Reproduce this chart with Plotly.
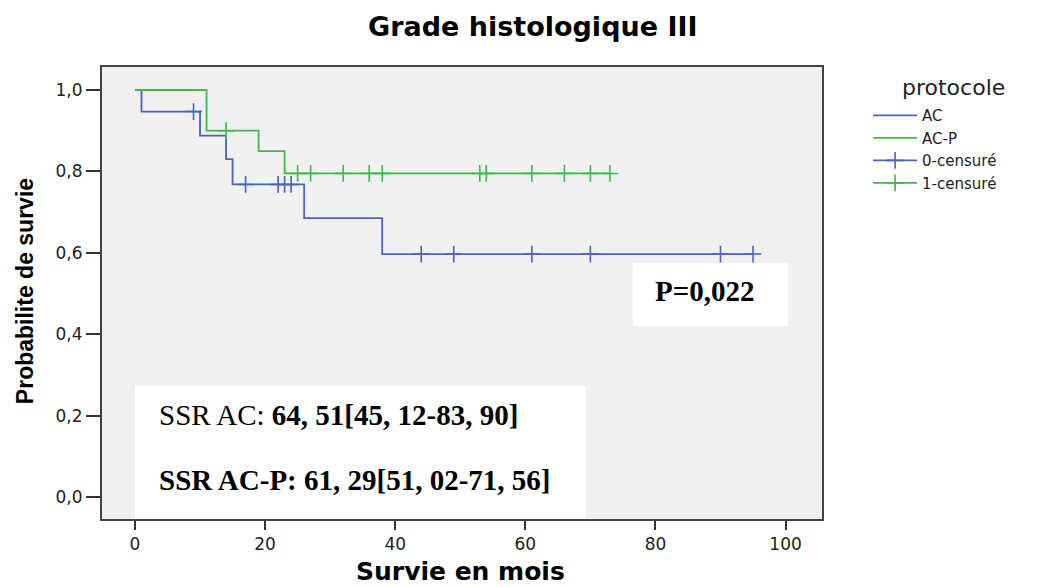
import numpy as np
import plotly.graph_objects as go

# ---- data ----
ac_event_t = [0, 1, 10, 14, 15, 26, 38]
ac_event_s = [1.0, 0.947, 0.888, 0.83, 0.768, 0.685, 0.597]
ac_censor_t = [9, 17, 22, 23, 24, 44, 49, 61, 70, 90, 95]

acp_event_t = [0, 11, 19, 23]
acp_event_s = [1.0, 0.90, 0.85, 0.795]
acp_censor_t = [14, 25, 27, 32, 36, 38, 53, 54, 61, 66, 70, 73]

x_ticks = [0, 20, 40, 60, 80, 100]
y_ticks = [0.0, 0.2, 0.4, 0.6, 0.8, 1.0]
y_ticktext = ["0,0", "0,2", "0,4", "0,6", "0,8", "1,0"]

series_names = ["AC", "AC-P"]
censor_names = ["0-censuré", "1-censuré"]
title_text = "Grade histologique III"
x_title = "Survie en mois"
y_title = "Probabilite de survie"
legend_title = "protocole"
ssr_ac = "SSR AC: <b>64, 51[45, 12-83, 90]</b>"
ssr_acp = "<b>SSR AC-P: 61, 29[51, 02-71, 56]</b>"
p_text = "<b>P=0,022</b>"

BLUE = "#4b63b8"
GREEN = "#3dba48"


def surv_at(times, surv, t):
    idx = np.searchsorted(np.asarray(times), np.asarray(t), side="right") - 1
    return list(np.asarray(surv)[idx])


def step_curve(times, surv, censor):
    last = max(censor)
    return list(times) + [last], list(surv) + [surv[-1]]


fig = go.Figure()

for name, et, es, ct, col in [
    (series_names[0], ac_event_t, ac_event_s, ac_censor_t, BLUE),
    (series_names[1], acp_event_t, acp_event_s, acp_censor_t, GREEN),
]:
    xs, ys = step_curve(et, es, ct)
    fig.add_trace(go.Scatter(x=xs, y=ys, mode="lines", line_shape="hv",
                             line=dict(color=col, width=1.8), name=name))

for name, et, es, ct, col in [
    (censor_names[0], ac_event_t, ac_event_s, ac_censor_t, BLUE),
    (censor_names[1], acp_event_t, acp_event_s, acp_censor_t, GREEN),
]:
    fig.add_trace(go.Scatter(x=ct, y=surv_at(et, es, ct), mode="markers",
                             marker=dict(symbol="cross-thin", size=12,
                                         line=dict(color=col, width=1.6)),
                             showlegend=False, name=name))
    # legend entry (line with cross)
    fig.add_trace(go.Scatter(x=[None], y=[None], mode="lines+markers",
                             line=dict(color=col, width=1.7),
                             marker=dict(symbol="cross-thin", size=12,
                                         line=dict(color=col, width=1.6)),
                             name=name))

# text boxes
fig.add_shape(type="rect", xref="paper", yref="paper", x0=0.046, x1=0.672,
              y0=0.0, y1=0.294, fillcolor="white", line=dict(width=0), layer="above")
fig.add_shape(type="rect", xref="paper", yref="paper", x0=0.7375, x1=0.953,
              y0=0.427, y1=0.566, fillcolor="white", line=dict(width=0), layer="above")

serif = "Liberation Serif, Times New Roman, serif"
fig.add_annotation(text=ssr_ac, xref="paper", yref="paper", x=0.076, y=0.229,
                   xanchor="left", yanchor="middle", showarrow=False,
                   font=dict(family=serif, size=29, color="black"))
fig.add_annotation(text=ssr_acp, xref="paper", yref="paper", x=0.076, y=0.087,
                   xanchor="left", yanchor="middle", showarrow=False,
                   font=dict(family=serif, size=29, color="black"))
fig.add_annotation(text=p_text, xref="paper", yref="paper", x=0.8375, y=0.504,
                   xanchor="center", yanchor="middle", showarrow=False,
                   font=dict(family=serif, size=29, color="black"))

sans = "DejaVu Sans, Arial, sans-serif"
fig.add_annotation(text="<b>" + title_text + "</b>", xref="paper", yref="paper",
                   x=0.599, y=1.090, xanchor="center", yanchor="middle",
                   showarrow=False, font=dict(family=sans, size=27, color="black"))
fig.add_annotation(text="<b>" + x_title + "</b>", xref="paper", yref="paper",
                   x=0.498, y=-0.117, xanchor="center", yanchor="middle",
                   showarrow=False, font=dict(family=sans, size=25, color="black"))
fig.add_annotation(text="<b>" + y_title + "</b>", xref="paper", yref="paper",
                   x=-0.107, y=0.504, xanchor="center", yanchor="middle",
                   textangle=-90, showarrow=False,
                   font=dict(family="Liberation Sans, Arial, sans-serif", size=23, color="black"))
# legend heading
fig.add_annotation(text=legend_title, xref="paper", yref="paper",
                   x=1.182, y=0.954, xanchor="center", yanchor="middle",
                   showarrow=False, font=dict(family=sans, size=22, color="#222"))

fig.update_layout(
    width=1041, height=587,
    margin=dict(l=102, r=219, t=67, b=68),
    paper_bgcolor="white", plot_bgcolor="#f0f0f0",
    showlegend=True,
    legend=dict(x=1.064, y=0.929, xanchor="left", yanchor="top",
                bgcolor="rgba(0,0,0,0)", tracegroupgap=0,
                font=dict(family=sans, size=15, color="#222"),
                itemwidth=44),
    font=dict(family=sans, color="#222"),
)
fig.update_xaxes(range=[-5.07, 105.6], tickvals=x_ticks, ticks="outside", ticklen=9,
                 tickwidth=1.5, tickcolor="#333", showgrid=False, zeroline=False,
                 showline=True, linecolor="#444", linewidth=2, mirror=True,
                 tickfont=dict(family=sans, size=17, color="#222"))
fig.update_yaxes(range=[-0.054, 1.0565], tickvals=y_ticks, ticktext=y_ticktext,
                 ticks="outside", ticklen=14, tickwidth=1.5, tickcolor="#333",
                 showgrid=False, zeroline=False,
                 showline=True, linecolor="#444", linewidth=2, mirror=True,
                 tickfont=dict(family=sans, size=17, color="#222"))

fig.write_html("out.html")
